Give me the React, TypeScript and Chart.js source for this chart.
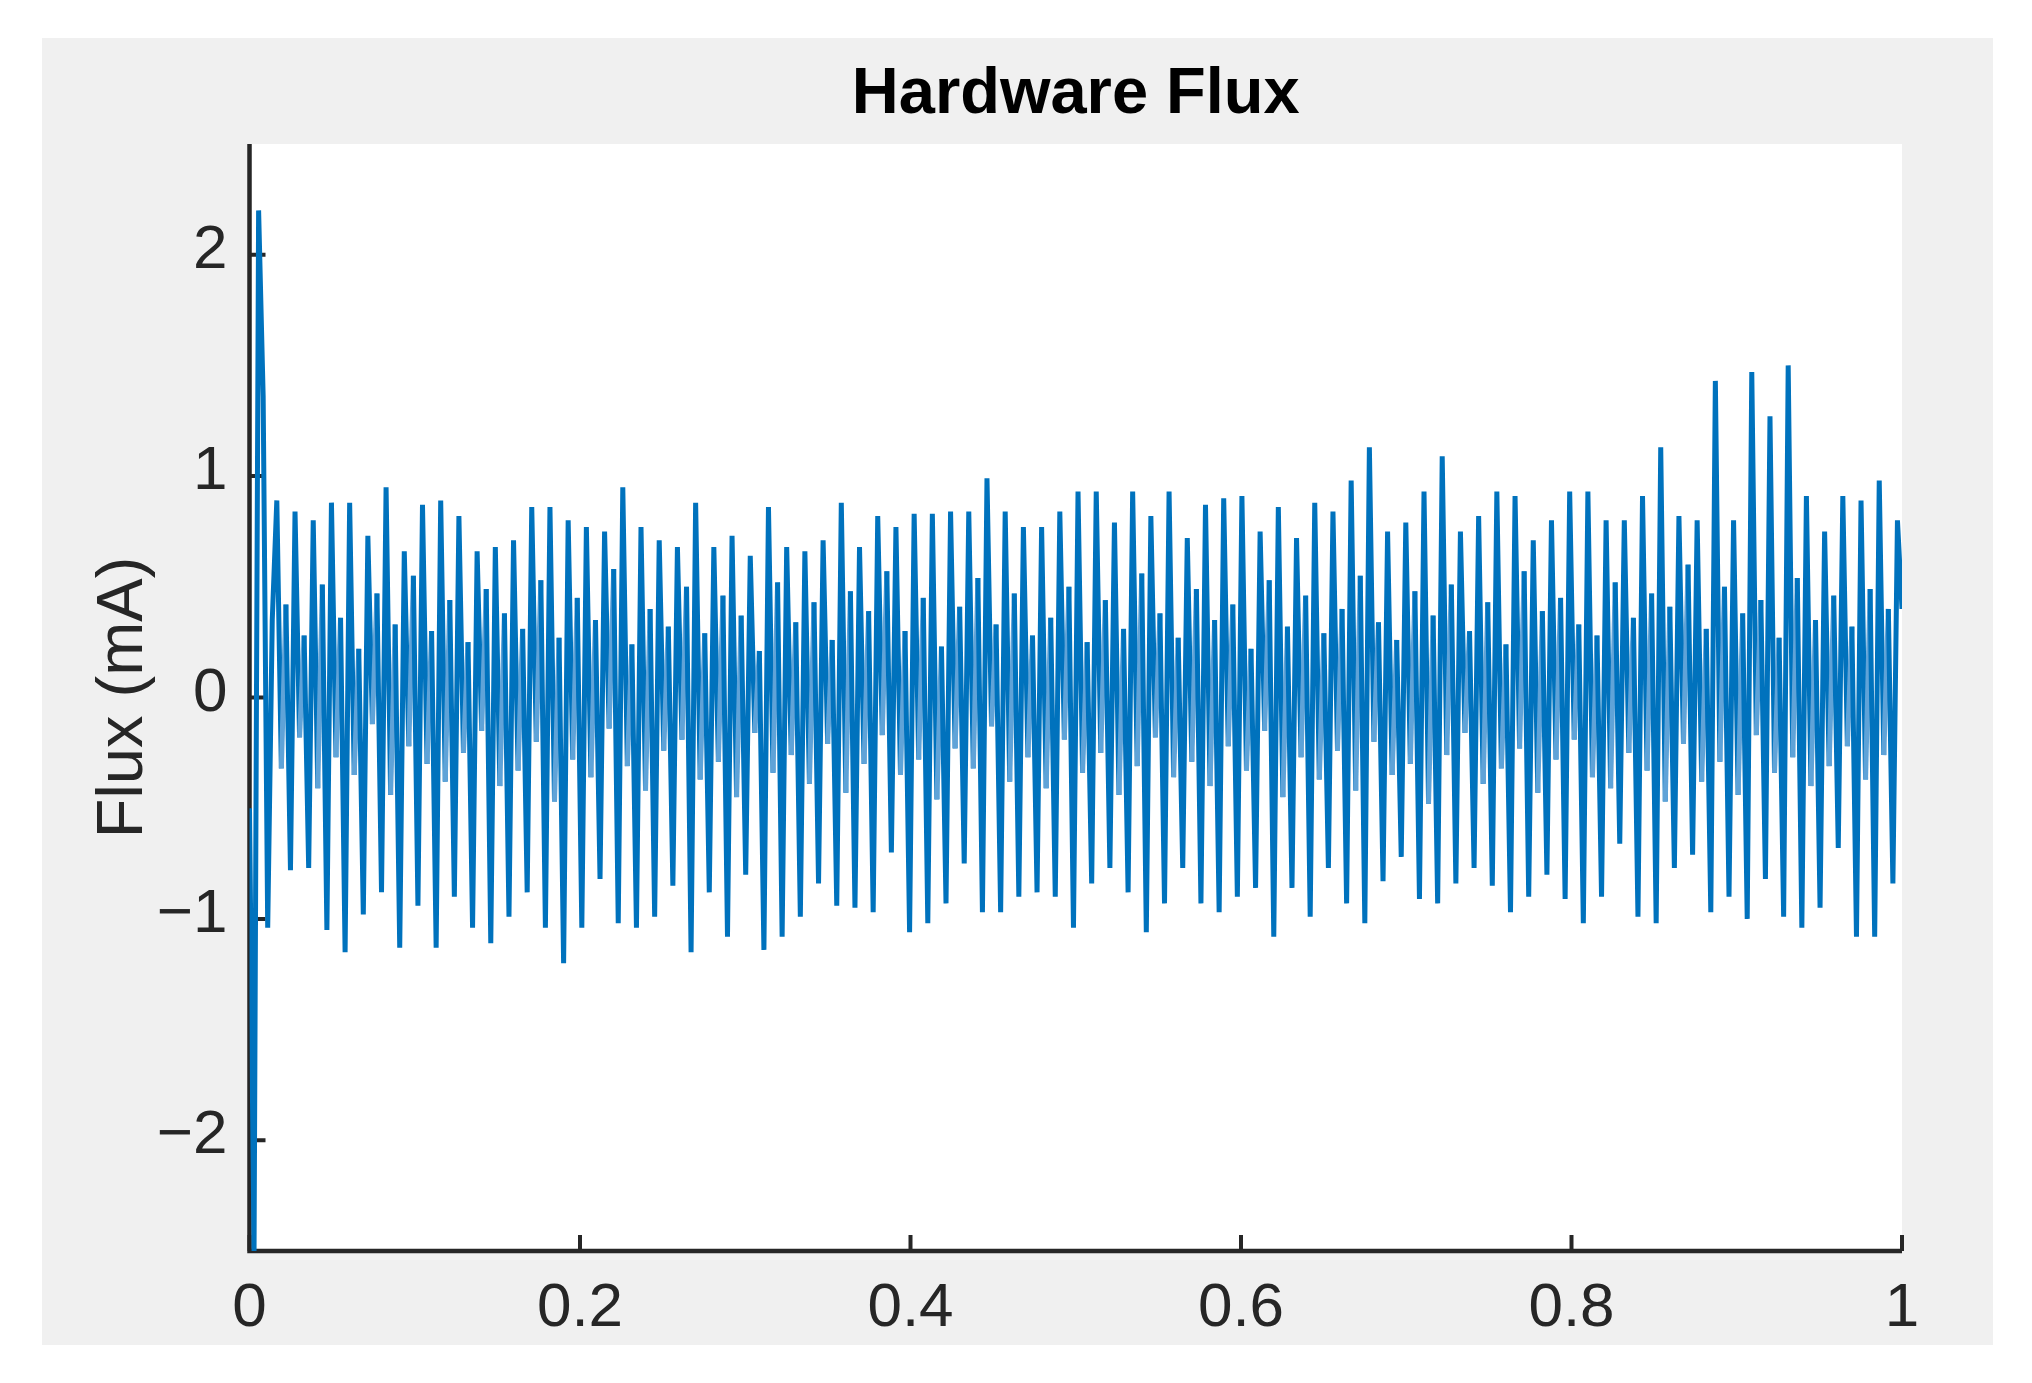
import React, { useEffect, useRef } from "react";
import { Chart, registerables } from "chart.js";

Chart.register(...registerables);

// ---- data ----
const titleText = "Hardware Flux";
const yAxisLabel = "Flux (mA)";
const xTicks = [0, 0.2, 0.4, 0.6, 0.8, 1];
const yTicks = [-2, -1, 0, 1, 2];

// start-up transient
const headValues = [-0.5, -2.5, 2.2, 1.36, -1.04, 0.35];

// upper extremes of each oscillation (90)
const peakValues = [
  0.89, 0.84, 0.8, 0.88, 0.88, 0.73, 0.95, 0.66, 0.87, 0.89, 0.82, 0.66, 0.68, 0.71, 0.86, 0.86, 0.8, 0.77, 0.75, 0.95, 0.77, 0.71,
  0.68, 0.88, 0.68, 0.73, 0.64, 0.86, 0.68, 0.66, 0.71, 0.88, 0.68, 0.82, 0.77, 0.83, 0.83, 0.84, 0.84, 0.99, 0.84, 0.77, 0.77, 0.84,
  0.93, 0.93, 0.79, 0.93, 0.82, 0.93, 0.72, 0.87, 0.9, 0.91, 0.75, 0.86, 0.72, 0.88, 0.84, 0.98, 1.13, 0.75, 0.79, 0.93, 1.09, 0.75, 0.82,
  0.93, 0.91, 0.71, 0.8, 0.93, 0.93, 0.8, 0.8, 0.91, 1.13, 0.82, 0.8, 1.43, 0.8, 1.47, 1.27, 1.5, 0.91, 0.75, 0.91, 0.89, 0.98, 0.8,
];

// intermediate values inside each oscillation (89 each)
const dipValues = [
  -0.32, -0.18, -0.41, -0.27, -0.35, -0.12, -0.44, -0.22, -0.3, -0.38,
  -0.25, -0.15, -0.4, -0.33, -0.2, -0.47, -0.28, -0.36, -0.14, -0.31,
  -0.42, -0.24, -0.19, -0.37, -0.29, -0.45, -0.16, -0.34, -0.26, -0.39,
  -0.21, -0.43, -0.3, -0.17, -0.35, -0.28, -0.46, -0.23, -0.32, -0.13,
  -0.38, -0.27, -0.41, -0.19, -0.34, -0.25, -0.44, -0.31, -0.18, -0.36,
  -0.29, -0.4, -0.22, -0.33, -0.15, -0.45, -0.27, -0.37, -0.24, -0.42,
  -0.2, -0.35, -0.3, -0.48, -0.26, -0.16, -0.39, -0.32, -0.23, -0.43,
  -0.28, -0.19, -0.36, -0.41, -0.25, -0.33, -0.47, -0.21, -0.38, -0.29,
  -0.44, -0.17, -0.34, -0.27, -0.4, -0.31, -0.22, -0.37, -0.26,
];
const riseValues = [
  0.42, 0.28, 0.51, 0.36, 0.22, 0.47, 0.33, 0.55, 0.3, 0.44,
  0.25, 0.49, 0.38, 0.31, 0.53, 0.27, 0.45, 0.35, 0.58, 0.24,
  0.4, 0.32, 0.5, 0.29, 0.46, 0.37, 0.21, 0.52, 0.34, 0.43,
  0.26, 0.48, 0.39, 0.57, 0.3, 0.45, 0.23, 0.41, 0.54, 0.33,
  0.47, 0.28, 0.36, 0.5, 0.25, 0.44, 0.31, 0.56, 0.38, 0.27,
  0.49, 0.35, 0.42, 0.22, 0.53, 0.32, 0.46, 0.29, 0.4, 0.55,
  0.34, 0.26, 0.48, 0.37, 0.51, 0.3, 0.43, 0.24, 0.57, 0.39,
  0.45, 0.33, 0.28, 0.52, 0.36, 0.47, 0.41, 0.6, 0.31, 0.5,
  0.38, 0.44, 0.27, 0.54, 0.35, 0.46, 0.32, 0.49, 0.4,
];

// lower extremes of each oscillation (89)
const troughValues = [
  -0.78, -0.77, -1.05, -1.15, -0.98, -0.88, -1.13, -0.94, -1.13, -0.9, -1.04, -1.11, -0.99, -0.88, -1.04, -1.2, -1.04, -0.82, -1.02, -1.04, -0.99,
  -0.85,
  -1.15, -0.88, -1.08, -0.8, -1.14, -1.08, -0.99, -0.84, -0.94, -0.95, -0.97, -0.7, -1.06, -1.02, -0.93, -0.75, -0.97, -0.97, -0.9, -0.88, -0.9, -1.04,
  -0.84, -0.77, -0.88, -1.06, -0.93, -0.77, -0.93, -0.97, -0.9, -0.86, -1.08, -0.86, -0.99, -0.77, -0.93, -1.02, -0.83, -0.72, -0.91, -0.93, -0.84, -0.77,
  -0.85,
  -0.97, -0.9, -0.8, -0.91, -1.02, -0.9, -0.66, -0.99, -1.02, -0.77, -0.71, -0.97, -0.9, -1.0, -0.82, -0.99, -1.04, -0.95, -0.68, -1.08, -1.08, -0.84,
];

// final sample
const tailValues = [0.4];

const LINE_COLOR = "#0072BD";
const LINE_COLOR_SOFT = "#5fa3d8";
const AXIS_COLOR = "#262626";
const FONT = '"Liberation Sans", Arial, sans-serif';

function buildSeries() {
  const vals: number[] = [...headValues];
  for (let k = 0; k < troughValues.length; k++) {
    vals.push(peakValues[k], dipValues[k], riseValues[k], troughValues[k]);
  }
  vals.push(peakValues[peakValues.length - 1], ...tailValues);
  const n = vals.length;
  return vals.map((y, i) => ({ x: i / (n - 1), y }));
}

const framePlugin = {
  id: "matlabFrame",
  beforeDraw(chart: any) {
    const { ctx, chartArea: a, width, height } = chart;
    ctx.save();
    ctx.fillStyle = "#ffffff";
    ctx.fillRect(0, 0, width, height);
    ctx.fillStyle = "#f0f0f0";
    ctx.fillRect(42, 38, 1951, 1307);
    ctx.fillStyle = "#ffffff";
    ctx.fillRect(a.left, a.top, a.right - a.left, a.bottom - a.top);
    ctx.restore();
  },
  beforeDatasetsDraw(chart: any) {
    const { ctx, chartArea: a, scales } = chart;
    const xs = scales.x;
    const ys = scales.y;
    ctx.save();
    ctx.strokeStyle = AXIS_COLOR;
    ctx.lineWidth = 4.5;
    ctx.lineCap = "butt";
    ctx.beginPath();
    ctx.moveTo(a.left, a.top);
    ctx.lineTo(a.left, a.bottom + 2.25);
    ctx.moveTo(a.left - 2.25, a.bottom);
    ctx.lineTo(a.right, a.bottom);
    ctx.stroke();
    ctx.lineWidth = 4;
    ctx.beginPath();
    for (const v of xTicks) {
      const px = xs.getPixelForValue(v);
      ctx.moveTo(px, a.bottom);
      ctx.lineTo(px, a.bottom - 16);
    }
    for (const v of yTicks) {
      const py = ys.getPixelForValue(v);
      ctx.moveTo(a.left, py);
      ctx.lineTo(a.left + 16, py);
    }
    ctx.stroke();
    ctx.restore();
  },
  afterDraw(chart: any) {
    const { ctx, chartArea: a } = chart;
    ctx.save();
    ctx.fillStyle = "#000000";
    ctx.font = `bold 65px ${FONT}`;
    ctx.textAlign = "center";
    ctx.textBaseline = "alphabetic";
    ctx.fillText(titleText, (a.left + a.right) / 2, 113);
    ctx.fillStyle = AXIS_COLOR;
    ctx.font = `65px ${FONT}`;
    ctx.translate(142, (a.top + a.bottom) / 2);
    ctx.rotate(-Math.PI / 2);
    ctx.fillText(yAxisLabel, 0, 0);
    ctx.restore();
  },
};

export default function App() {
  const canvasRef = useRef<HTMLCanvasElement | null>(null);

  useEffect(() => {
    const canvas = canvasRef.current;
    if (!canvas) return;
    const chart = new Chart(canvas, {
      type: "line",
      data: {
        datasets: [
          {
            data: buildSeries(),
            borderColor: LINE_COLOR,
            borderWidth: 5,
            borderJoinStyle: "bevel",
            borderCapStyle: "butt",
            pointRadius: 0,
            tension: 0,
            fill: false,
            segment: {
              borderColor: (c: any) =>
                Math.abs(c.p0.parsed.y) < 0.62 && Math.abs(c.p1.parsed.y) < 0.62 ? LINE_COLOR_SOFT : LINE_COLOR,
            },
          },
        ],
      },
      options: {
        animation: false,
        responsive: false,
        devicePixelRatio: 1,
        events: [],
        layout: { padding: { left: 0, top: 144, right: 130, bottom: 0 } },
        plugins: {
          legend: { display: false },
          tooltip: { enabled: false },
          title: { display: false },
        },
        scales: {
          x: {
            type: "linear",
            min: 0,
            max: 1,
            afterBuildTicks: (s: any) => {
              s.ticks = xTicks.map((v) => ({ value: v }));
            },
            afterFit: (s: any) => {
              s.height = 132;
            },
            grid: { display: false, drawTicks: false },
            border: { display: false },
            ticks: {
              color: AXIS_COLOR,
              padding: 21,
              maxRotation: 0,
              autoSkip: false,
              font: { family: FONT, size: 62 },
              callback: (v: any) => String(v),
            },
          },
          y: {
            type: "linear",
            min: -2.5,
            max: 2.5,
            afterBuildTicks: (s: any) => {
              s.ticks = yTicks.map((v) => ({ value: v }));
            },
            afterFit: (s: any) => {
              s.width = 249.5;
            },
            grid: { display: false, drawTicks: false },
            border: { display: false },
            ticks: {
              color: AXIS_COLOR,
              padding: 22,
              labelOffset: -4,
              autoSkip: false,
              font: { family: FONT, size: 62 },
              callback: (v: any) => (v < 0 ? "\u2212" + Math.abs(v) : String(v)),
            },
          },
        },
      },
      plugins: [framePlugin],
    });
    return () => chart.destroy();
  }, []);

  return (
    <div style={{ position: "fixed", left: 0, top: 0, width: 2032, height: 1383, background: "#ffffff" }}>
      <canvas ref={canvasRef} width={2032} height={1383} style={{ width: 2032, height: 1383, display: "block" }} />
    </div>
  );
}
